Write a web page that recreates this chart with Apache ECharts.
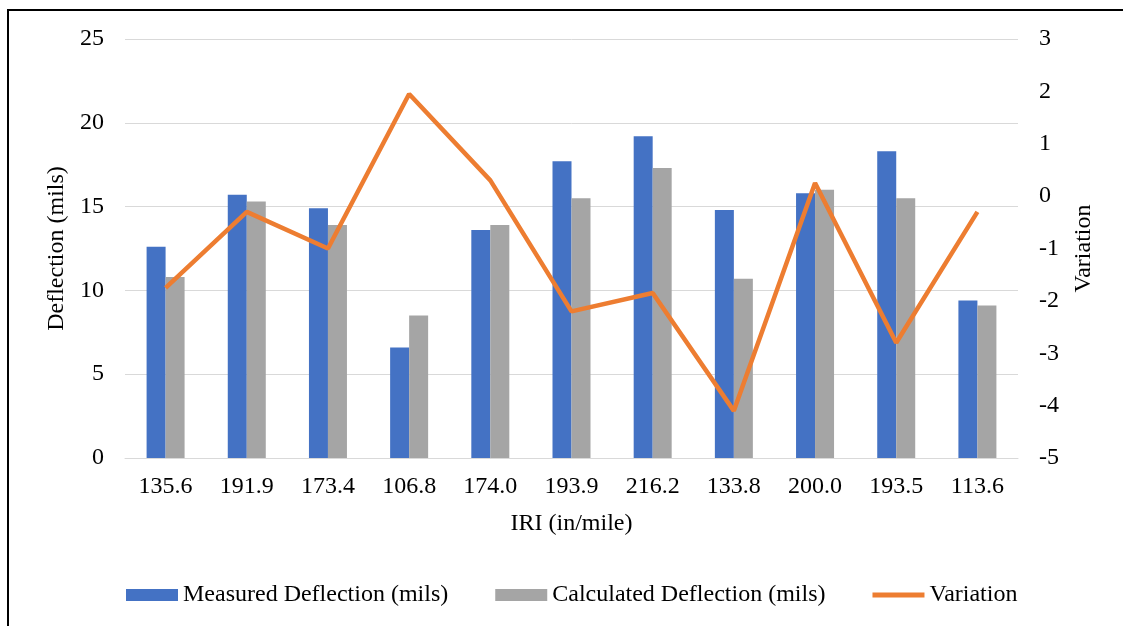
<!DOCTYPE html>
<html>
<head>
<meta charset="utf-8">
<script src="https://cdn.jsdelivr.net/npm/echarts@6/dist/echarts.min.js"></script>
<style>
html, body { margin: 0; padding: 0; background: #fff; }
#container { width: 1123px; height: 626px; }
</style>
</head>
<body>
<div id="container"></div>
<script>
var iri = ['135.6', '191.9', '173.4', '106.8', '174.0', '193.9', '216.2', '133.8', '200.0', '193.5', '113.6'];
var measured = [12.6, 15.7, 14.9, 6.6, 13.6, 17.7, 19.2, 14.8, 15.8, 18.3, 9.4];
var calculated = [10.8, 15.3, 13.9, 8.5, 13.9, 15.5, 17.3, 10.7, 16.0, 15.5, 9.1];
var variation = [-1.75, -0.3, -1.0, 1.95, 0.3, -2.2, -1.85, -4.1, 0.25, -2.8, -0.3];

var font = 'Liberation Serif';
var fs = 24;
var txt = { color: '#000', fontFamily: font, fontSize: fs };

var option = {
  animation: false,
  backgroundColor: '#fff',
  textStyle: { fontFamily: font },
  graphic: [{
    type: 'rect',
    shape: { x: 8, y: 10, width: 1130, height: 630 },
    style: { fill: 'none', stroke: '#000', lineWidth: 2 }
  }],
  grid: { left: 125, right: 105, top: 39, bottom: 168 },
  legend: {
    left: 121,
    top: 578,
    itemWidth: 52,
    itemHeight: 12,
    itemGap: 47,
    textStyle: { color: '#000', fontFamily: font, fontSize: fs },
    data: [
      { name: 'Measured Deflection (mils)', icon: 'rect' },
      { name: 'Calculated Deflection (mils)', icon: 'rect' },
      { name: 'Variation', icon: 'path://M0,0 L52,0 L52,5 L0,5 Z' }
    ]
  },
  xAxis: {
    type: 'category',
    data: iri,
    name: 'IRI (in/mile)',
    nameLocation: 'middle',
    nameGap: 54,
    nameTextStyle: txt,
    axisLine: { lineStyle: { color: '#D9D9D9', width: 1 } },
    axisTick: { show: false },
    axisLabel: { color: '#000', fontFamily: font, fontSize: fs, margin: 17 }
  },
  yAxis: [{
    type: 'value',
    min: 0,
    max: 25,
    interval: 5,
    name: 'Deflection (mils)',
    nameLocation: 'middle',
    nameRotate: 90,
    nameGap: 53,
    nameTextStyle: txt,
    axisLine: { show: false },
    axisTick: { show: false },
    axisLabel: { color: '#000', fontFamily: font, fontSize: fs, margin: 21 },
    splitLine: { lineStyle: { color: '#D9D9D9', width: 1 } }
  }, {
    type: 'value',
    min: -5,
    max: 3,
    interval: 1,
    name: 'Variation',
    nameLocation: 'middle',
    nameRotate: 90,
    nameGap: 54,
    nameTextStyle: txt,
    axisLine: { show: false },
    axisTick: { show: false },
    axisLabel: { color: '#000', fontFamily: font, fontSize: fs, margin: 21 },
    splitLine: { show: false }
  }],
  series: [{
    name: 'Measured Deflection (mils)',
    type: 'bar',
    data: measured,
    barWidth: 19,
    barGap: '0%',
    itemStyle: { color: '#4472C4' }
  }, {
    name: 'Calculated Deflection (mils)',
    type: 'bar',
    data: calculated,
    barWidth: 19,
    barGap: '0%',
    itemStyle: { color: '#A5A5A5' }
  }, {
    name: 'Variation',
    type: 'line',
    yAxisIndex: 1,
    data: variation,
    symbol: 'none',
    lineStyle: { color: '#ED7D31', width: 4.5 },
    itemStyle: { color: '#ED7D31' }
  }]
};

var myChart = echarts.init(document.getElementById('container'), null, { renderer: 'canvas' });
myChart.setOption(option);
</script>
</body>
</html>
